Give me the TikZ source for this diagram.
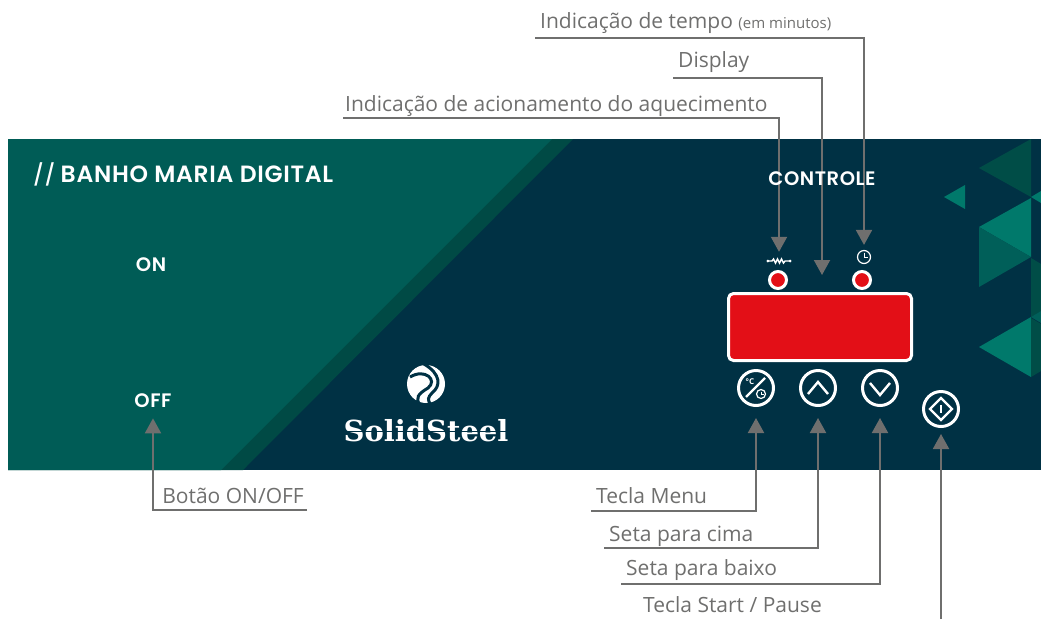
\documentclass[tikz,border=0pt]{standalone}
\usepackage{fontspec}
\setmainfont{Open Sans}
\newfontfamily\titlefont{Poppins}[UprightFont=* Medium,BoldFont=* SemiBold,LetterSpace=3]
\newfontfamily\logofont{DejaVu Serif}
\usetikzlibrary{arrows.meta,calc,positioning}
\definecolor{painelverde}{HTML}{005C56}
\definecolor{faixaverde}{HTML}{004A45}
\definecolor{painelazul}{HTML}{003144}
\definecolor{tealclaro}{HTML}{00796B}
\definecolor{tealmedio}{HTML}{005F59}
\definecolor{tealescuro}{HTML}{004D47}
\definecolor{vermelho}{HTML}{E30F17}
\definecolor{cinza}{HTML}{6F6F6E}
\tikzset{
  rotulo/.style={inner xsep=5pt,inner ysep=0pt,text height=15pt,text depth=9pt,
    text=cinza,font=\fontsize{21}{21}\selectfont},
  seta/.style={draw=cinza,line width=2pt,-{Triangle[length=15pt,width=16pt]}},
  botao/.style={circle,draw=white,line width=3pt,minimum size=35pt,inner sep=0pt},
  led/.style={circle,draw=white,fill=vermelho,line width=3pt,minimum size=17pt,inner sep=0pt},
  titulo/.style={text=white,inner sep=0pt,font=\titlefont\bfseries\fontsize{19.5}{19.5}\selectfont},
  icone/.style={draw=white,line width=2pt},
}
\begin{document}
\begin{tikzpicture}[x=1pt,y=-1pt]
  \useasboundingbox (0,0) rectangle (1041,619);
  % painel
  \fill[painelazul](8,139)rectangle(1041,470);
  \fill[faixaverde](8,139)--(573,139)--(243,470)--(8,470)--cycle;
  \fill[painelverde](8,139)--(552,139)--(221,470)--(8,470)--cycle;
  % triangulos
  \fill[tealescuro](1031,139)--(979,168)--(1031,197)--cycle;
  \fill[tealclaro](965,185)--(944,197)--(965,209)--cycle;
  \fill[tealclaro](1031,198)--(979,227)--(1031,257)--cycle;
  \fill[tealmedio](979,227)--(1031,257)--(979,287)--cycle;
  \fill[tealclaro](1031,317)--(979,347)--(1031,377)--cycle;
  \fill[tealclaro](1031,197)--(1041,191)--(1041,203)--cycle;
  \fill[tealescuro](1031,258)--(1041,264)--(1041,311)--(1031,317)--cycle;
  \fill[tealmedio](1031,317)--(1041,311)--(1041,323)--cycle;
  \fill[tealescuro](1031,318)--(1041,324)--(1041,371)--(1031,377)--cycle;
  % logo
  \fill[white](426,384)circle[radius=19];
  \draw[painelazul,line width=3pt](410,377)..controls(425,368)and(438,380)..(428,388)
  ..controls(418,394)and(415,398)..(420,405);
  \draw[painelazul,line width=3pt](424,364)..controls(441,374)and(441,386)..(432,393)
  ..controls(428,397)and(427,400)..(431,405);
  \node[text=white,inner sep=0pt,anchor=base,
  font=\logofont\bfseries\fontsize{29}{29}\selectfont](txtLogo)at(426,441){SolidSteel};
  \draw[painelazul,line width=0.8pt](345,431)--(508,431);
  % visor e botoes
  \node[led](ledAquec)at(778,280){};
  \node[led](ledTempo)at(862,280){};
  \node[draw=white,fill=vermelho,line width=3pt,rounded corners=5pt,
  minimum width=183pt,minimum height=67pt,inner sep=0pt](visor)at(820,327){};
  \node[botao](btnMenu)at(756,388){};
  \node[botao](btnCima)at(818,388){};
  \node[botao](btnBaixo)at(880,388){};
  \node[botao](btnStart)at(941,409){};
  % icones
  \draw[icone,line width=2.4pt](746,397)--(765,378);
  \node[text=white,inner sep=0pt,font=\bfseries\fontsize{8}{8}\selectfont](txtGraus)at(750,382){°C};
  \draw[icone,line width=1.2pt](761,394)circle[radius=4.5];
  \draw[icone,line width=1pt](761,391.5)--(761,394)--(763.5,394);
  \draw[icone,line width=2.4pt](808,394)--(818,382)--(828,394);
  \draw[icone,line width=2.4pt](870,383)--(880,395)--(890,383);
  \draw[icone,line width=2.4pt](941,398)--(952,409)--(941,420)--(930,409)--cycle;
  \draw[icone](941,405)--(941,413);
  \node[circle,draw=white,line width=1.2pt,minimum size=13pt,inner sep=0pt](iconTempo)at(864,257){};
  \draw[icone,line width=1pt](864,252.5)--(864,257)--(868,257);
  \node[minimum width=22pt,minimum height=6pt,inner sep=0pt](iconAquec)at(779,261){};
  \draw[white,line width=1.4pt](iconAquec.west)--(772,261)--(773.5,259)--(775.5,263)--(777.5,259)
  --(779.5,263)--(781.5,259)--(783.5,263)--(785,261)--(iconAquec.east);
  \fill[white](iconAquec.west)circle[radius=1.5];
  \fill[white](iconAquec.east)circle[radius=1.5];
  % rotulos
  \node[rotulo,anchor=south west](lblTempo)at(535,38)
  {Indicação de tempo {\fontsize{15}{15}\selectfont(em minutos)}};
  \node[rotulo,anchor=south west,text depth=10pt](lblDisplay)at(673,78){Display};
  \node[rotulo,anchor=south west,text depth=6pt,inner xsep=2pt](lblAquec)at(343,118){Indicação de acionamento do aquecimento};
  \node[rotulo,anchor=south east,inner xsep=3pt,text depth=6pt](lblBotao)at(307,510){Botão ON/OFF};
  \node[rotulo,anchor=south west,text depth=7pt](lblMenu)at(591,511){Tecla Menu};
  \node[rotulo,anchor=south west,text depth=6pt](lblCima)at(604,548){Seta para cima};
  \node[rotulo,anchor=south west,text depth=8pt](lblBaixo)at(621,584){Seta para baixo};
  \node[rotulo,anchor=south west,text depth=8pt](lblStart)at(638,621){Tecla Start / Pause};
  \coordinate(fimStart)at(941,619);
  \coordinate(alvoVisor)at(822,275);
  % conectores
  \draw[seta,shorten >=5pt](lblTempo.south west)-|(iconTempo.north);
  \draw[seta](lblDisplay.south west)-|(alvoVisor);
  \draw[seta,shorten >=6pt](lblAquec.south west)-|(iconAquec.north);
  \draw[seta,shorten >=11pt](lblMenu.south west)-|(btnMenu.south);
  \draw[seta,shorten >=11pt](lblCima.south west)-|(btnCima.south);
  \draw[seta,shorten >=11pt](lblBaixo.south west)-|(btnBaixo.south);
  \draw[seta,shorten >=6pt](fimStart)--(btnStart.south);
  % titulos
  \node[titulo,anchor=base west](txtTitulo)at(33,182)
  {\fontsize{23.5}{23.5}\selectfont{\titlefont\mdseries\fontsize{21}{21}\selectfont //}\hspace{-1pt} BANHO MARIA DIGITAL};
  \node[titulo,anchor=base](txtOn)at(151,271){ON};
  \node[titulo,anchor=base](txtOff)at(153,407){OFF};
  \node[titulo,anchor=base](txtControle)at(822,185){CONTROLE};
  \draw[seta,shorten >=11pt](lblBotao.south east)-|(txtOff.south);
\end{tikzpicture}
\end{document}
